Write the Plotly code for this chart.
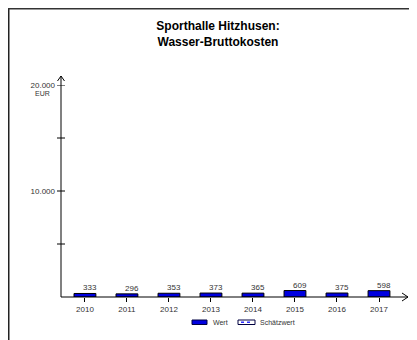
import plotly.graph_objects as go

years = ["2010", "2011", "2012", "2013", "2014", "2015", "2016", "2017"]
values = [333, 296, 353, 373, 365, 609, 375, 598]
y_tickvals = [10000, 20000]
y_ticktext = ["10.000", "20.000"]
y_minor = [5000, 10000, 15000, 20000]
title_text = "Sporthalle Hitzhusen:<br>Wasser-Bruttokosten"
legend_names = ["Wert", "Schätzwert"]

OFF = 8  # page body margin
W, H = 417 - OFF, 340 - OFF
L, R, T, B = 53, 17, 77, 43
pw, ph = W - L - R, H - T - B

def px(x):  # page pixel -> paper x
    return (x - OFF - L) / pw

def py(y):  # page pixel -> paper y
    return (H - B - (y - OFF)) / ph

FONT = "Liberation Sans, Arial, sans-serif"

fig = go.Figure()
fig.add_trace(go.Bar(
    x=years, y=values, width=0.52,
    marker=dict(color="#0000e0", line=dict(color="#000000", width=1)),
    showlegend=False, hoverinfo="x+y",
))

shapes = []
annotations = []

# value labels
for i, v in enumerate(values):
    annotations.append(dict(x=i, y=v, xref="x", yref="y", text=str(v),
                            showarrow=False, xanchor="center", yanchor="bottom",
                            xshift=5, yshift=-1,
                            font=dict(family=FONT, size=8, color="#333333")))

# y axis line (gray) with arrow
shapes.append(dict(type="line", xref="paper", yref="paper", x0=0, x1=0,
                   y0=0, y1=py(76), line=dict(color="#808080", width=2)))
shapes.append(dict(type="path", xref="paper", yref="paper", xsizemode="pixel",
                   ysizemode="pixel", xanchor=0, yanchor=py(76),
                   path="M -3.5 -5 L 0 0 L 3.5 -5", line=dict(color="#000000", width=1)))
# y ticks crossing axis
for v in y_minor:
    shapes.append(dict(type="line", xref="paper", yref="y", xsizemode="pixel",
                       xanchor=0, x0=-4, x1=4, y0=v, y1=v,
                       line=dict(color="#000000", width=1)))
# x axis line with arrow
shapes.append(dict(type="line", xref="paper", yref="paper", x0=0, x1=px(408),
                   y0=0, y1=0, line=dict(color="#000000", width=1)))
shapes.append(dict(type="path", xref="paper", yref="paper", xsizemode="pixel",
                   ysizemode="pixel", xanchor=px(408), yanchor=0,
                   path="M -6 4 L 0 0 L -6 -4", line=dict(color="#000000", width=1)))

# border lines (left and top)
shapes.append(dict(type="line", xref="paper", yref="paper", x0=px(8.75), x1=px(8.75),
                   y0=py(8), y1=py(341), line=dict(color="#222222", width=1.5)))
shapes.append(dict(type="line", xref="paper", yref="paper", x0=px(8), x1=px(418),
                   y0=py(8.75), y1=py(8.75), line=dict(color="#333333", width=1.5)))

# EUR unit label
annotations.append(dict(x=0, y=20000, xref="paper", yref="y", text="EUR",
                        showarrow=False, xanchor="center", yanchor="middle",
                        xshift=-19, yshift=-8,
                        font=dict(family=FONT, size=7, color="#333333")))

# custom legend
shapes.append(dict(type="rect", xref="paper", yref="paper",
                   x0=px(192), x1=px(207), y0=py(320), y1=py(324.5),
                   fillcolor="#0000e0", line=dict(color="#000040", width=1)))
annotations.append(dict(x=px(211), y=py(322.5), xref="paper", yref="paper",
                        text=legend_names[0], showarrow=False, xanchor="left",
                        yanchor="middle", font=dict(family=FONT, size=7, color="#333333")))
shapes.append(dict(type="rect", xref="paper", yref="paper",
                   x0=px(238), x1=px(255), y0=py(320), y1=py(324.5),
                   fillcolor="#ffffff", line=dict(color="#000040", width=1)))
shapes.append(dict(type="line", xref="paper", yref="paper",
                   x0=px(241), x1=px(252), y0=py(322.3), y1=py(322.3),
                   line=dict(color="#3030ff", width=1.5, dash="dot")))
annotations.append(dict(x=px(258), y=py(322.5), xref="paper", yref="paper",
                        text=legend_names[1], showarrow=False, xanchor="left",
                        yanchor="middle", font=dict(family=FONT, size=7, color="#333333")))

fig.update_layout(
    width=W, height=H, autosize=False,
    margin=dict(l=L, r=R, t=T, b=B, pad=0),
    paper_bgcolor="white", plot_bgcolor="white",
    showlegend=False,
    title=dict(text="<b>" + title_text + "</b>", x=210 / W, xanchor="center",
               y=1 - 22 / H, yanchor="top", yref="container",
               font=dict(family=FONT, size=12, color="#000000")),
    xaxis=dict(type="category", range=[-0.57, 7.5], showline=False, showgrid=False,
               zeroline=False, ticks="outside", ticklen=4, tickcolor="#000000",
               tickwidth=1, tickfont=dict(family=FONT, size=8, color="#333333")),
    yaxis=dict(range=[0, 20000], showline=False, showgrid=False, zeroline=False,
               tickvals=y_tickvals, ticktext=y_ticktext, ticks="",
               ticklabelstandoff=5,
               tickfont=dict(family=FONT, size=8, color="#333333")),
    shapes=shapes, annotations=annotations,
)

fig.write_html("out.html")
